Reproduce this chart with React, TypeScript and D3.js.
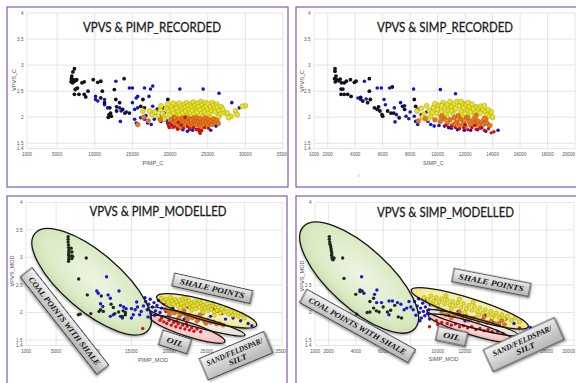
import React from 'react';
import * as d3 from 'd3';

type Pt = [number, number];

// ---------------- axis ticks ----------------
const yTicks = [1.4, 1.5, 2, 2.5, 3, 3.5, 4];
const pimpTicks = [1000, 5000, 10000, 15000, 20000, 25000, 30000, 35000];
const simpTicks = [1000, 2000, 4000, 6000, 8000, 10000, 12000, 14000, 16000, 18000, 20000];

// ---------------- VPVS & PIMP_RECORDED ----------------
const pimpRecBlack: Pt[] = [
  [7300, 2.93], [7100, 2.87], [6950, 2.79], [6900, 2.74], [7000, 2.7], [7150, 2.72], [7300, 2.69], [7500, 2.71],
  [6850, 2.68], [7050, 2.66], [7600, 2.72], [8300, 2.66], [8600, 2.68], [7700, 2.56], [7400, 2.53], [7550, 2.55],
  [7300, 2.44], [7900, 2.44], [8600, 2.44], [9100, 2.5], [8800, 2.39], [9800, 2.72], [10400, 2.67], [10800, 2.69],
  [13900, 2.74], [12600, 2.53], [12800, 2.34], [13300, 2.28], [12000, 2.18], [12200, 2.02], [12100, 2.08],
  [10800, 2.37], [11300, 2.28], [13700, 2.15], [14000, 2.08], [14600, 2.08], [16100, 2.21], [16600, 2.18],
  [16400, 2.34], [19700, 2.34], [19100, 2.18], [18300, 2.15], [11000, 2.5], [12900, 2.2], [11800, 2.0],
  [12900, 2.12], [11900, 2.05],
];
const pimpRecBlue: Pt[] = [
  [10100, 2.4], [10100, 2.34], [10400, 2.31], [11300, 2.34], [11300, 2.24], [11700, 2.18], [12800, 2.69],
  [13300, 2.18], [13500, 2.12], [14600, 2.56], [15000, 2.56], [15700, 2.4], [15500, 2.37], [15000, 2.28],
  [15300, 2.15], [15700, 2.18], [13400, 1.92], [15300, 1.96], [15500, 1.89], [16600, 2.56], [17400, 2.54],
  [17700, 2.6], [17200, 2.4], [17700, 2.21], [18300, 2.15], [16100, 1.99], [16600, 1.96], [17000, 1.89],
  [17500, 1.86], [17900, 1.96], [18600, 2.02], [19200, 1.96], [19700, 1.89], [20100, 1.89], [20600, 1.83],
  [21300, 2.54], [24400, 2.54], [26500, 2.46], [28200, 2.28], [29200, 2.18], [21000, 1.79], [21700, 1.76],
  [22300, 1.73], [23000, 1.75], [24100, 1.75], [25400, 1.75], [26100, 1.83], [17900, 2.08], [19200, 2.08],
  [20300, 2.02], [18800, 1.92], [19500, 1.94], [20400, 1.96], [21500, 1.8], [22600, 1.77], [23600, 1.76],
  [26300, 1.9], [16800, 2.03], [14200, 2.1],
];
const pimpRecYellow: Pt[] = [
  [17600, 2.05], [18000, 2.1], [18400, 2.02], [18700, 2.14], [19000, 2.07], [19300, 2.0], [19500, 2.17],
  [19800, 2.11], [20000, 2.04], [20200, 2.2], [20300, 2.14], [20500, 2.08], [20700, 2.24], [20800, 2.02],
  [20900, 2.17], [21100, 2.11], [21200, 2.27], [21300, 2.05], [21500, 2.21], [21600, 2.15], [21700, 2.08],
  [21900, 2.25], [22000, 2.18], [22100, 2.12], [22200, 2.28], [22300, 2.03], [22400, 2.22], [22500, 2.15],
  [22700, 2.09], [22800, 2.26], [22900, 2.19], [23000, 2.13], [23100, 2.29], [23200, 2.06], [23300, 2.23],
  [23500, 2.17], [23600, 2.1], [23700, 2.27], [23800, 2.2], [24000, 2.14], [24100, 2.3], [24200, 2.07],
  [24300, 2.24], [24500, 2.18], [24600, 2.11], [24700, 2.28], [24800, 2.21], [25000, 2.15], [25100, 2.26],
  [25200, 2.08], [25400, 2.2], [25500, 2.13], [25600, 2.28], [25800, 2.23], [25900, 2.17], [26000, 2.1],
  [26200, 2.25], [26300, 2.19], [26500, 2.13], [26600, 2.05], [26800, 2.2], [27000, 2.15], [27300, 2.08],
  [27600, 2.08], [28100, 2.02], [28700, 2.12], [30000, 2.22], [29600, 2.21], [28900, 2.05], [27800, 1.99],
  [21800, 2.0], [22600, 1.98], [23400, 2.0], [24400, 2.01], [25300, 2.0], [20400, 2.27], [19700, 2.25],
  [18800, 2.22], [17300, 2.12], [16400, 2.12], [19200, 1.96], [26400, 2.0],
];
const pimpRecOrange: Pt[] = [
  [20100, 1.95], [20400, 1.88], [20600, 1.99], [20900, 1.92], [21000, 1.85], [21200, 1.97], [21400, 1.9],
  [21600, 1.83], [21700, 1.98], [21900, 1.93], [22100, 1.87], [22200, 1.99], [22400, 1.91], [22500, 1.84],
  [22700, 1.96], [22900, 1.89], [23000, 1.82], [23100, 1.98], [23300, 1.93], [23400, 1.86], [23600, 1.99],
  [23700, 1.91], [23900, 1.84], [24000, 1.97], [24200, 1.89], [24400, 1.94], [24500, 1.86], [24700, 1.99],
  [24800, 1.91], [25000, 1.85], [25100, 1.96], [25300, 1.9], [25500, 1.93], [25600, 1.86], [25800, 1.97],
  [26000, 1.9], [26200, 1.94], [26400, 1.88], [20300, 1.82], [21300, 1.8], [22800, 1.95], [24100, 1.81],
  [15700, 1.86], [16500, 2.0], [17100, 1.93], [18700, 1.95],
];
const pimpRecRed: Pt[] = [
  [19700, 1.88], [19800, 1.83], [19900, 1.8], [20200, 1.85], [20500, 1.81], [21000, 1.77], [21500, 1.85],
  [21800, 1.79], [22300, 1.82], [22600, 1.78], [23100, 1.8], [23500, 1.77], [23800, 1.76], [23900, 1.72],
  [24000, 1.69], [24200, 1.74], [24600, 1.8], [25100, 1.79], [22000, 2.0], [21100, 1.9],
];

// ---------------- VPVS & SIMP_RECORDED ----------------
const simpRecBlack: Pt[] = [
  [2530, 2.93], [2530, 2.88], [2600, 2.79], [2500, 2.74], [2650, 2.72], [2800, 2.7], [2550, 2.68], [2900, 2.73],
  [3000, 2.66], [3200, 2.66], [3350, 2.69], [3650, 2.72], [3940, 2.67], [4060, 2.69], [2970, 2.54], [3100, 2.54],
  [2970, 2.44], [3200, 2.44], [3450, 2.44], [3700, 2.4], [5030, 2.74], [5030, 2.5], [4550, 2.31], [4900, 2.28],
  [5100, 2.34], [5400, 2.18], [5600, 2.15], [5800, 2.12], [5950, 2.05], [6000, 2.02], [6360, 2.12], [6600, 2.08],
  [6800, 2.08], [7450, 2.21], [7600, 2.15], [8300, 2.34], [8400, 2.21], [8550, 2.15], [7200, 1.99], [6700, 2.58],
  [5700, 2.2], [4400, 2.38],
];
const simpRecBlue: Pt[] = [
  [4200, 2.37], [4400, 2.34], [4800, 2.35], [4670, 2.69], [5600, 2.56], [5900, 2.56], [6500, 2.56], [6100, 2.34],
  [6200, 2.24], [6850, 2.18], [6900, 1.91], [7300, 2.28], [7600, 2.22], [7700, 2.02], [7900, 1.97], [8250, 2.54],
  [8300, 2.02], [8400, 1.92], [8550, 1.86], [8800, 2.05], [9000, 1.99], [9300, 1.92], [9500, 1.86], [9750, 1.83],
  [10200, 2.53], [11300, 2.45], [10100, 1.84], [10500, 1.83], [11000, 1.79], [11450, 1.76], [11940, 1.75],
  [12400, 1.75], [12250, 2.28], [12900, 1.76], [13500, 1.73], [14400, 1.75], [13000, 2.12], [9200, 2.1],
  [8000, 2.1], [7000, 2.05], [10800, 1.8], [13200, 1.8],
];
const simpRecYellow: Pt[] = [
  [8500, 2.12], [8800, 2.17], [9000, 2.06], [9200, 2.22], [9400, 2.13], [9500, 2.02], [9700, 2.19], [9800, 2.26],
  [9900, 2.08], [10000, 2.15], [10100, 2.23], [10200, 2.01], [10300, 2.11], [10400, 2.28], [10500, 2.18],
  [10600, 2.06], [10700, 2.24], [10800, 2.13], [10900, 2.3], [11000, 2.2], [11100, 2.08], [11200, 2.26],
  [11300, 2.16], [11400, 2.3], [11500, 2.04], [11600, 2.22], [11700, 2.12], [11800, 2.27], [11900, 2.18],
  [12000, 2.07], [12100, 2.24], [12200, 2.14], [12300, 2.2], [12400, 2.1], [12500, 2.25], [12600, 2.16],
  [12700, 2.05], [12800, 2.2], [12900, 2.12], [13000, 2.18], [13100, 2.08], [13150, 2.21], [13300, 2.15],
  [13400, 2.22], [13500, 2.1], [13600, 2.05], [13700, 2.14], [13800, 2.02], [14000, 2.0], [13900, 2.1],
  [9300, 1.97], [10700, 2.0], [11800, 2.0], [12700, 1.98], [10300, 2.22], [11700, 2.3], [12200, 2.28],
  [8900, 2.0], [9600, 2.09], [11000, 2.12],
];
const simpRecOrange: Pt[] = [
  [9800, 1.95], [10200, 1.92], [10500, 1.97], [10700, 1.88], [10900, 1.95], [11100, 1.85], [11200, 1.99],
  [11400, 1.91], [11600, 1.84], [11700, 1.96], [11900, 1.89], [12000, 1.82], [12100, 1.98], [12300, 1.92],
  [12400, 1.85], [12600, 1.95], [12700, 1.88], [12900, 1.93], [13000, 1.84], [13200, 1.91], [13300, 1.86],
  [13500, 1.95], [13600, 1.88], [13800, 1.84], [8600, 1.93], [9100, 1.97], [11500, 2.02], [12800, 2.03],
  [10300, 2.02], [11300, 1.88], [12200, 2.0], [13400, 1.98],
];
const simpRecRed: Pt[] = [
  [11000, 1.83], [11300, 1.8], [11600, 1.78], [11900, 1.8], [12200, 1.76], [12500, 1.8], [12800, 1.77],
  [13100, 1.79], [13400, 1.75], [13700, 1.78], [13900, 1.7], [14100, 1.72], [12000, 1.86], [12700, 1.84],
  [10600, 1.84],
];

// ---------------- VPVS & PIMP_MODELLED ----------------
const pimpModBlack: Pt[] = [
  [6600, 3.38], [6600, 3.33], [6600, 3.28], [6650, 3.23], [6650, 3.18], [6700, 3.13], [6700, 3.09], [6650, 3.05],
  [6700, 3.01], [6700, 2.97], [6650, 2.93], [7000, 3.17], [7100, 3.1], [7050, 3.03], [7100, 2.98], [7200, 3.02],
  [9000, 2.99], [8000, 2.61], [9140, 2.32], [7950, 1.96], [8200, 1.97], [9600, 1.98], [10700, 2.02], [10900, 2.05],
  [11270, 2.02], [12600, 2.09], [12800, 1.98], [13300, 2.01], [13900, 2.03], [14200, 1.96], [14200, 2.0],
  [11000, 2.3], [12300, 2.15], [13800, 1.93],
];
const pimpModBlue: Pt[] = [
  [11700, 2.65], [10400, 2.39], [10600, 2.35], [11900, 2.32], [12200, 2.26], [13350, 2.39], [13550, 2.13],
  [13970, 2.1], [14300, 2.07], [10900, 2.16], [11200, 2.11], [12200, 1.93], [12600, 1.96], [13550, 1.93],
  [13800, 1.9], [15000, 1.9], [15250, 1.96], [15500, 2.05], [15700, 2.19], [15800, 2.1], [16100, 1.96],
  [16300, 2.02], [15000, 2.07], [16600, 2.12], [16900, 2.2], [17100, 2.05], [17300, 2.15], [17500, 2.24],
  [17600, 1.98], [17800, 2.1], [18000, 2.18], [18200, 2.03], [18400, 2.13], [18600, 2.22], [18800, 2.0],
  [19000, 2.08], [19300, 2.16], [19600, 2.02], [17200, 1.92], [18100, 1.95], [16800, 2.27], [20500, 2.08],
  [21500, 2.0], [22500, 2.1], [23500, 1.92], [24500, 1.98], [25500, 1.93], [26500, 2.02], [27500, 1.88],
  [28500, 1.9], [29500, 1.85], [30500, 1.8], [31000, 1.76], [26000, 2.07], [27000, 1.98], [22000, 1.88],
  [20000, 1.95],
];
const pimpModYellow: Pt[] = [
  [19000, 2.26], [19300, 2.2], [19600, 2.24], [19900, 2.18], [20200, 2.27], [20400, 2.21], [20600, 2.15],
  [20800, 2.24], [21000, 2.19], [21200, 2.13], [21400, 2.22], [21600, 2.16], [21800, 2.25], [22000, 2.11],
  [22200, 2.19], [22400, 2.14], [22600, 2.22], [22800, 2.09], [23000, 2.17], [23200, 2.12], [23400, 2.2],
  [23600, 2.07], [23800, 2.15], [24000, 2.1], [24200, 2.18], [24400, 2.05], [24600, 2.13], [24800, 2.08],
  [25000, 2.16], [25200, 2.03], [25400, 2.11], [25600, 2.06], [25800, 2.13], [26000, 2.01], [26200, 2.09],
  [26400, 2.04], [26600, 2.1], [26800, 1.99], [27000, 2.06], [27300, 2.01], [27600, 2.07], [27900, 1.97],
  [28200, 2.02], [28500, 1.95], [28800, 2.0], [29200, 1.93], [29600, 1.97], [30000, 1.9], [20000, 2.12],
  [21500, 2.08], [23000, 2.04], [24500, 2.0], [26000, 1.95], [22200, 2.26], [24000, 2.22], [25800, 2.17],
];
const pimpModOrange: Pt[] = [
  [19500, 2.06], [19900, 2.02], [20300, 2.04], [20700, 1.99], [21100, 2.01], [21500, 1.96], [21900, 1.98],
  [22300, 1.93], [22700, 1.95], [23100, 1.9], [23500, 1.92], [23900, 1.87], [24300, 1.89], [24700, 1.84],
  [25100, 1.86], [25500, 1.82], [25900, 1.83], [26300, 1.79], [26700, 1.8], [20100, 1.97], [21300, 1.91],
  [22500, 1.88], [23700, 1.84], [24900, 1.8], [22000, 2.03], [24100, 1.96], [27200, 1.77],
];
const pimpModRed: Pt[] = [
  [18800, 1.86], [19300, 1.83], [19700, 1.8], [20000, 1.86], [20300, 1.77], [20600, 1.82], [20900, 1.74],
  [21200, 1.79], [21500, 1.72], [21800, 1.77], [22100, 1.7], [22400, 1.75], [22700, 1.68], [23000, 1.72],
  [23300, 1.66], [23700, 1.7], [24200, 1.65], [19000, 1.9], [21000, 1.84], [22300, 1.8], [16500, 1.71],
];

// ---------------- VPVS & SIMP_MODELLED ----------------
const simpModBlack: Pt[] = [
  [2050, 3.38], [2050, 3.33], [2080, 3.28], [2100, 3.24], [2150, 3.2], [2180, 3.16], [2200, 3.12], [2230, 3.08],
  [2220, 3.04], [2250, 3.0], [2280, 2.97], [2330, 2.96], [2400, 2.99], [3030, 2.99], [3130, 2.62], [3990, 2.33],
  [4300, 2.38], [4450, 2.39], [4060, 1.97], [4830, 2.0], [5030, 2.01], [5300, 2.08], [5500, 2.03], [5700, 2.01],
  [6310, 2.01], [6550, 2.04], [6850, 2.13], [7110, 1.92], [7350, 1.9], [5030, 2.2], [5300, 2.26], [6000, 2.1],
];
const simpModBlue: Pt[] = [
  [4420, 2.65], [4300, 2.41], [4590, 2.35], [5540, 2.41], [5370, 2.33], [5520, 2.18], [5880, 2.18], [6430, 2.21],
  [6680, 2.21], [6430, 1.96], [7050, 2.18], [7300, 2.15], [7540, 2.05], [7730, 2.08], [7900, 2.2], [8030, 2.1],
  [8200, 2.05], [8300, 2.2], [8400, 1.95], [8500, 2.12], [8600, 2.25], [8650, 2.0], [8750, 2.08], [8800, 1.9],
  [8900, 2.17], [8950, 2.02], [9050, 1.94], [9100, 2.1], [9200, 2.22], [9250, 1.98], [9350, 2.05], [9400, 1.88],
  [9450, 2.14], [8700, 1.85], [9000, 2.27], [10000, 2.1], [10800, 1.95], [11500, 2.02], [12500, 1.9],
  [13500, 1.95], [14000, 1.83], [15000, 1.88], [15600, 1.8], [16800, 1.73], [17400, 1.74], [18200, 1.75],
  [17800, 1.72], [12000, 1.85], [14500, 1.78],
];
const simpModYellow: Pt[] = [
  [9000, 2.27], [9300, 2.23], [9500, 2.3], [9700, 2.21], [9900, 2.27], [10100, 2.19], [10300, 2.25], [10500, 2.16],
  [10700, 2.23], [10900, 2.14], [11100, 2.2], [11300, 2.12], [11500, 2.18], [11700, 2.09], [11900, 2.16],
  [12100, 2.07], [12300, 2.13], [12500, 2.04], [12700, 2.11], [12900, 2.02], [13100, 2.08], [13300, 1.99],
  [13500, 2.05], [13700, 1.96], [13900, 2.02], [14100, 1.94], [14300, 1.99], [14500, 1.91], [14700, 1.96],
  [14900, 1.88], [15100, 1.93], [15400, 1.86], [15700, 1.9], [16000, 1.83], [10000, 2.12], [11000, 2.06],
  [12000, 2.0], [13000, 1.95], [14000, 1.9], [9600, 2.15], [10600, 2.3], [11600, 2.24], [12600, 2.19],
];
const simpModOrange: Pt[] = [
  [10300, 2.0], [10600, 1.96], [10900, 1.99], [11200, 1.94], [11500, 1.96], [11800, 1.91], [12100, 1.93],
  [12400, 1.88], [12700, 1.9], [13000, 1.85], [13300, 1.87], [13600, 1.82], [13900, 1.84], [14200, 1.8],
  [14500, 1.81], [14900, 1.78], [11000, 1.9], [12200, 1.86], [13400, 1.92], [11600, 2.01], [14700, 1.85],
];
const simpModRed: Pt[] = [
  [9400, 1.74], [9900, 1.85], [10300, 1.82], [10700, 1.8], [11000, 1.77], [11300, 1.79], [11600, 1.74],
  [11900, 1.76], [12200, 1.72], [12500, 1.74], [12800, 1.69], [13100, 1.71], [13400, 1.67], [13700, 1.69],
  [14000, 1.65], [14400, 1.66], [14800, 1.62], [16000, 1.72], [10000, 1.78],
];

// ---------------- annotations (data coords) ----------------
// ellipse: two tips in data units + half thickness in px
type Ell = { kind: string; a: Pt; b: Pt; ry: number };
type Tag = { at: Pt; w: number; h: number; rot: number; lines: string[]; len: number[] };

const pimpEllipses: Ell[] = [
  { kind: 'coal', a: [2195, 3.44], b: [17243, 1.68], ry: 29 },
  { kind: 'shale', a: [18360, 2.29], b: [31640, 1.77], ry: 10 },
  { kind: 'sand', a: [17200, 2.08], b: [30090, 1.59], ry: 5.5 },
  { kind: 'oil', a: [17470, 1.92], b: [27430, 1.47], ry: 7 },
];
const simpEllipses: Ell[] = [
  { kind: 'coal', a: [142, 3.56], b: [8336, 1.71], ry: 30 },
  { kind: 'shale', a: [8064, 2.41], b: [16647, 1.74], ry: 10 },
  { kind: 'sand', a: [9194, 2.04], b: [15913, 1.59], ry: 5 },
  { kind: 'oil', a: [9311, 1.95], b: [15671, 1.47], ry: 6.5 },
];
const pimpTags: Tag[] = [
  { at: [6113, 1.845], w: 124, h: 15, rot: 51.8, lines: ['COAL POINTS WITH SHALE'], len: [110] },
  { at: [25743, 2.44], w: 80, h: 13, rot: 12.7, lines: ['SHALE POINTS'], len: [66] },
  { at: [20789, 1.464], w: 30, h: 15, rot: 18, lines: ['OIL'], len: [17] },
  { at: [28890, 1.215], w: 70, h: 23, rot: -22.8, lines: ['SAND/FELDSPAR/', 'SILT'], len: [60, 19] },
];
const simpTags: Tag[] = [
  { at: [4118, 1.755], w: 124, h: 15, rot: 29, lines: ['COAL POINTS WITH SHALE'], len: [110] },
  { at: [13933, 2.545], w: 78, h: 13.5, rot: 11, lines: ['SHALE POINTS'], len: [66] },
  { at: [11028, 1.567], w: 30, h: 14, rot: 12, lines: ['OIL'], len: [17] },
  { at: [16310, 1.415], w: 78, h: 24, rot: -24.4, lines: ['SAND/FELDSPAR/', 'SILT'], len: [64, 20] },
];

const ellFill: Record<string, string> = {
  coal: 'url(#gGreen)', shale: 'url(#gYellow)', sand: 'url(#gWhite)', oil: 'url(#gPink)',
};

type Series = { pts: Pt[]; fill: string; stroke?: string; r: number };

const recSeries = (bk: Pt[], bl: Pt[], ye: Pt[], or: Pt[], rd: Pt[]): Series[] => [
  { pts: bl, fill: '#1414c8', r: 1.8 },
  { pts: bk, fill: '#12121c', r: 1.9 },
  { pts: ye, fill: '#e8e22a', stroke: '#9e9410', r: 2.5 },
  { pts: or, fill: '#e8781e', stroke: '#a84c14', r: 2.4 },
  { pts: rd, fill: '#c81010', r: 1.7 },
];
const modSeries = (bk: Pt[], bl: Pt[], ye: Pt[], or: Pt[], rd: Pt[]): Series[] => [
  { pts: bl, fill: '#1818d0', r: 1.7 },
  { pts: bk, fill: '#1c2a1c', r: 1.7 },
  { pts: ye, fill: '#e6df26', stroke: '#9a900e', r: 2.1 },
  { pts: or, fill: '#e47a1c', stroke: '#a44a12', r: 2.0 },
  { pts: rd, fill: '#d01414', r: 1.7 },
];

type PanelDef = {
  frame: [number, number, number, number];
  plot: { l: number; r: number; t: number; b: number };
  xDomain: [number, number];
  xTicks: number[];
  title: string; titleX: number; titleY: number; titleLen: number;
  xLabel: string; xLabelPos: [number, number];
  yLabel: string; yLabelPos: [number, number];
  series: Series[];
  ellipses: Ell[];
  tags: Tag[];
};

const panels: PanelDef[] = [
  {
    frame: [7, 7, 281, 180], plot: { l: 27, r: 283, t: 13, b: 148.5 }, xDomain: [1000, 35000], xTicks: pimpTicks,
    title: 'VPVS & PIMP_RECORDED', titleX: 152, titleY: 32, titleLen: 138,
    xLabel: 'PIMP_C', xLabelPos: [153, 164.5], yLabel: 'VPVS_C', yLabelPos: [15.7, 80],
    series: recSeries(pimpRecBlack, pimpRecBlue, pimpRecYellow, pimpRecOrange, pimpRecRed), ellipses: [], tags: [],
  },
  {
    frame: [296, 7, 300, 180], plot: { l: 314, r: 575, t: 13, b: 148.5 }, xDomain: [1000, 20000], xTicks: simpTicks,
    title: 'VPVS & SIMP_RECORDED', titleX: 445, titleY: 32, titleLen: 136,
    xLabel: 'SIMP_C', xLabelPos: [433.5, 164.5], yLabel: 'VPVS_C', yLabelPos: [304, 81],
    series: recSeries(simpRecBlack, simpRecBlue, simpRecYellow, simpRecOrange, simpRecRed), ellipses: [], tags: [],
  },
  {
    frame: [7, 196, 280, 230], plot: { l: 26, r: 282, t: 202.5, b: 345.5 }, xDomain: [1000, 35000], xTicks: pimpTicks,
    title: 'VPVS & PIMP_MODELLED', titleX: 158, titleY: 216, titleLen: 137,
    xLabel: 'PIMP_MOD', xLabelPos: [153, 361.5], yLabel: 'VPVS_MOD', yLabelPos: [14, 271],
    series: modSeries(pimpModBlack, pimpModBlue, pimpModYellow, pimpModOrange, pimpModRed),
    ellipses: pimpEllipses, tags: pimpTags,
  },
  {
    frame: [296, 196, 300, 230], plot: { l: 315, r: 574, t: 202.5, b: 345.5 }, xDomain: [1000, 20000], xTicks: simpTicks,
    title: 'VPVS & SIMP_MODELLED', titleX: 445.5, titleY: 216.5, titleLen: 137,
    xLabel: 'SIMP_MOD', xLabelPos: [443.5, 361], yLabel: 'VPVS_MOD', yLabelPos: [304, 276],
    series: modSeries(simpModBlack, simpModBlue, simpModYellow, simpModOrange, simpModRed),
    ellipses: simpEllipses, tags: simpTags,
  },
];

const SANS = "'Liberation Sans', Arial, sans-serif";
const SERIF = "'Liberation Serif', 'DejaVu Serif', serif";

function Panel({ p, idx }: { p: PanelDef; idx: number }) {
  const x = d3.scaleLinear().domain(p.xDomain).range([p.plot.l, p.plot.r]);
  const y = d3.scaleLinear().domain([1.4, 4]).range([p.plot.b, p.plot.t]);

  const ells = p.ellipses.map((e) => {
    const ax = x(e.a[0]), ay = y(e.a[1]), bx = x(e.b[0]), by = y(e.b[1]);
    return {
      kind: e.kind,
      cx: (ax + bx) / 2, cy: (ay + by) / 2,
      rx: Math.hypot(bx - ax, by - ay) / 2, ry: e.ry,
      rot: (Math.atan2(by - ay, bx - ax) * 180) / Math.PI,
    };
  });

  return (
    <g>
      <rect x={p.frame[0]} y={p.frame[1]} width={p.frame[2]} height={p.frame[3]}
        fill="#fff" stroke="#8c66bb" strokeWidth={1.3} />
      <defs>
        <clipPath id={`clip${idx}`}>
          <rect x={p.frame[0] + 1} y={p.frame[1] + 1} width={p.frame[2] - 2} height={p.frame[3] - 2} />
        </clipPath>
      </defs>
      <g clipPath={`url(#clip${idx})`}>
        {/* grid */}
        {p.xTicks.map((t) => (
          <line key={`gx${t}`} x1={x(t)} x2={x(t)} y1={p.plot.t} y2={p.plot.b} stroke="#dedede" strokeWidth={0.8} />
        ))}
        {yTicks.map((t) => (
          <line key={`gy${t}`} x1={p.plot.l} x2={p.plot.r} y1={y(t)} y2={y(t)} stroke="#dedede" strokeWidth={0.8} />
        ))}
        {/* tick labels; the last one is pulled in when it would run off the page */}
        {p.xTicks.map((t) => {
          const tx = x(t);
          const atEdge = tx + 7 > 576;
          return (
            <text key={`tx${t}`} x={atEdge ? 575 : tx} y={p.plot.b + 7.5} fontSize={4.6} fill="#555"
              textAnchor={atEdge ? 'end' : 'middle'} fontFamily={SANS}>{t}</text>
          );
        })}
        {yTicks.map((t) => (
          <text key={`ty${t}`} x={p.plot.l - 3.5} y={y(t) + 1.6} fontSize={4.6} fill="#555" textAnchor="end"
            fontFamily={SANS}>{t}</text>
        ))}
        <text x={p.xLabelPos[0]} y={p.xLabelPos[1]} fontSize={5.6} fill="#555" textAnchor="middle"
          fontFamily={SANS}>{p.xLabel}</text>
        <text transform={`translate(${p.yLabelPos[0]},${p.yLabelPos[1]}) rotate(-90)`} fontSize={5.6} fill="#555"
          textAnchor="middle" fontFamily={SANS}>{p.yLabel}</text>

        {/* ellipse fills under the points */}
        {ells.map((e, i) => (
          <ellipse key={`ef${i}`} cx={e.cx} cy={e.cy} rx={e.rx} ry={e.ry}
            transform={`rotate(${e.rot} ${e.cx} ${e.cy})`} fill={ellFill[e.kind]} filter="url(#shadow)" />
        ))}

        {/* points */}
        {p.series.map((s, si) => (
          <g key={`s${si}`}>
            {s.pts.map((d, i) => (
              <circle key={i} cx={x(d[0])} cy={y(d[1])} r={s.r} fill={s.fill}
                stroke={s.stroke || 'none'} strokeWidth={s.stroke ? 0.45 : 0} />
            ))}
          </g>
        ))}

        {/* ellipse outlines */}
        {ells.map((e, i) => (
          <ellipse key={`es${i}`} cx={e.cx} cy={e.cy} rx={e.rx} ry={e.ry}
            transform={`rotate(${e.rot} ${e.cx} ${e.cy})`} fill="none" stroke="#151515" strokeWidth={1.3} />
        ))}

        {/* label boxes */}
        {p.tags.map((t, i) => {
          const cx = x(t.at[0]), cy = y(t.at[1]);
          const lh = 8.5;
          const y0 = -((t.lines.length - 1) * lh) / 2 + 2.8;
          return (
            <g key={`t${i}`} transform={`translate(${cx},${cy}) rotate(${t.rot})`}>
              <rect x={-t.w / 2} y={-t.h / 2} width={t.w} height={t.h} fill="url(#gBox)" stroke="#2a2a2a"
                strokeWidth={0.9} filter="url(#shadow)" />
              {t.lines.map((ln, j) => (
                <text key={j} x={0} y={y0 + j * lh} textAnchor="middle" fontSize={8} fontWeight="bold"
                  fontStyle="italic" fontFamily={SERIF} fill="#141414" textLength={t.len[j]}
                  lengthAdjust="spacingAndGlyphs">{ln}</text>
              ))}
            </g>
          );
        })}

        {/* title */}
        <text x={p.titleX} y={p.titleY} textAnchor="middle" fontSize={14} fill="#1a1a1a" stroke="#1a1a1a"
          strokeWidth={0.3} fontFamily="Lato, 'Liberation Sans', sans-serif" textLength={p.titleLen}
          lengthAdjust="spacingAndGlyphs">{p.title}</text>
      </g>
    </g>
  );
}

export default function App() {
  return (
    <svg width={576} height={383} viewBox="0 0 576 383"
      style={{ position: 'absolute', left: 0, top: 0, background: '#fff' }}>
      <defs>
        <radialGradient id="gGreen" cx="50%" cy="45%" r="60%">
          <stop offset="0%" stopColor="#eef5e3" />
          <stop offset="70%" stopColor="#dbeac4" />
          <stop offset="100%" stopColor="#c4d9a6" />
        </radialGradient>
        <radialGradient id="gYellow" cx="50%" cy="45%" r="60%">
          <stop offset="0%" stopColor="#fbf8d8" />
          <stop offset="70%" stopColor="#f2ec9c" />
          <stop offset="100%" stopColor="#e3da6a" />
        </radialGradient>
        <radialGradient id="gPink" cx="50%" cy="45%" r="60%">
          <stop offset="0%" stopColor="#fde6e6" />
          <stop offset="70%" stopColor="#f6c6c6" />
          <stop offset="100%" stopColor="#e9a4a4" />
        </radialGradient>
        <radialGradient id="gWhite" cx="50%" cy="45%" r="60%">
          <stop offset="0%" stopColor="#fbf8ee" />
          <stop offset="100%" stopColor="#e2ddd0" />
        </radialGradient>
        <linearGradient id="gBox" x1="0" y1="0" x2="0.3" y2="1">
          <stop offset="0%" stopColor="#f6f6f6" />
          <stop offset="100%" stopColor="#bcbcbc" />
        </linearGradient>
        <filter id="shadow" x="-20%" y="-40%" width="140%" height="180%">
          <feDropShadow dx="1.2" dy="1.8" stdDeviation="1.2" floodColor="#000" floodOpacity="0.35" />
        </filter>
      </defs>
      <rect x={0} y={0} width={576} height={383} fill="#fff" />
      {panels.map((p, i) => (
        <Panel key={i} p={p} idx={i} />
      ))}
      <text x={358} y={177} fontSize={5} fill="#666" fontFamily={SANS}>ı</text>
    </svg>
  );
}
